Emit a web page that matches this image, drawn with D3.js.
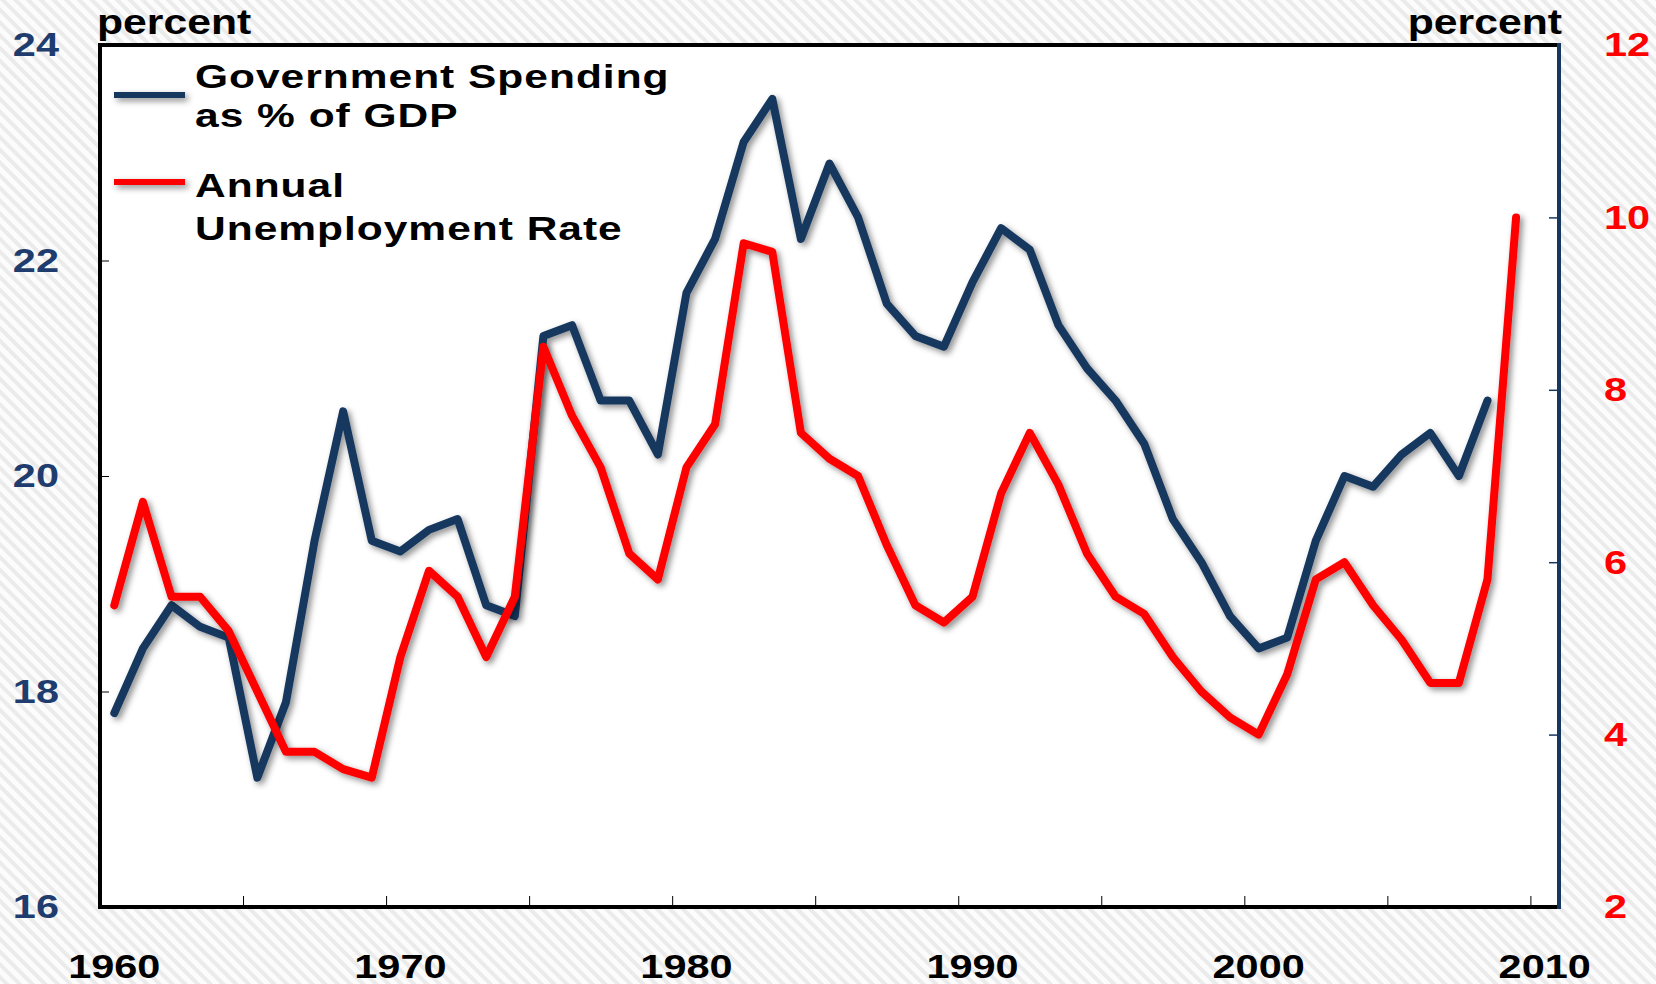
<!DOCTYPE html>
<html>
<head>
<meta charset="utf-8">
<script src="https://cdnjs.cloudflare.com/ajax/libs/d3/7.8.5/d3.min.js"></script>
<style>
  body { margin: 0; background: #fff; }
  svg text { font-family: "Liberation Sans", Arial, sans-serif; font-weight: bold; }
</style>
</head>
<body>
<svg id="chart" width="1656" height="984"></svg>
<script>
// data
var years = d3.range(1960, 2010);
var spending = [17.8, 18.4, 18.8, 18.6, 18.5, 17.2, 17.9, 19.4, 20.6, 19.4,
                19.3, 19.5, 19.6, 18.8, 18.7, 21.3, 21.4, 20.7, 20.7, 20.2,
                21.7, 22.2, 23.1, 23.5, 22.2, 22.9, 22.4, 21.6, 21.3, 21.2,
                21.8, 22.3, 22.1, 21.4, 21.0, 20.7, 20.3, 19.6, 19.2, 18.7,
                18.4, 18.5, 19.4, 20.0, 19.9, 20.2, 20.4, 20.0, 20.7];
var unemployment = [5.5, 6.7, 5.6, 5.6, 5.2, 4.5, 3.8, 3.8, 3.6, 3.5,
                    4.9, 5.9, 5.6, 4.9, 5.6, 8.5, 7.7, 7.1, 6.1, 5.8,
                    7.1, 7.6, 9.7, 9.6, 7.5, 7.2, 7.0, 6.2, 5.5, 5.3,
                    5.6, 6.8, 7.5, 6.9, 6.1, 5.6, 5.4, 4.9, 4.5, 4.2,
                    4.0, 4.7, 5.8, 6.0, 5.5, 5.1, 4.6, 4.6, 5.8, 10.0];
var leftTicks = [16, 18, 20, 22, 24];
var rightTicks = [2, 4, 6, 8, 10, 12];
var xTicks = [1965, 1970, 1975, 1980, 1985, 1990, 1995, 2000, 2005, 2010];
var xLabels = [1960, 1970, 1980, 1990, 2000, 2010];
var seriesNames = [["Government Spending", "as % of GDP"], ["Annual", "Unemployment Rate"]];

var navy = "#17375e", red = "#ff0000", leftText = "#1f3c6e";
var SX = 1.22; // text in the picture is stretched sideways

var svg = d3.select("#chart");
var pL = 100, pR = 1559, pT = 45, pB = 907;

var x = d3.scaleLinear().domain([1960, 2011]).range([pL, pR]);
var yL = d3.scaleLinear().domain([16, 24]).range([pB, pT]);
var yR = d3.scaleLinear().domain([2, 12]).range([pB, pT]);

var defs = svg.append("defs");
var pat = defs.append("pattern")
    .attr("id", "stripes")
    .attr("patternUnits", "userSpaceOnUse")
    .attr("width", 9).attr("height", 9)
    .attr("patternTransform", "rotate(-45)");
pat.append("rect").attr("width", 9).attr("height", 9).attr("fill", "#fcfcfc");
pat.append("rect").attr("width", 4).attr("height", 9).attr("fill", "#ebebeb");

var shadow = defs.append("filter").attr("id", "shadow")
    .attr("filterUnits", "userSpaceOnUse")
    .attr("x", 0).attr("y", 0).attr("width", 1656).attr("height", 984);
shadow.append("feDropShadow")
    .attr("dx", 3).attr("dy", 3).attr("stdDeviation", 3)
    .attr("flood-color", "#000").attr("flood-opacity", 0.45);

svg.append("rect").attr("width", 1656).attr("height", 984).attr("fill", "url(#stripes)");
svg.append("rect")
    .attr("x", pL).attr("y", pT)
    .attr("width", pR - pL).attr("height", pB - pT)
    .attr("fill", "#fff");

// axes
var gL = svg.append("g")
    .attr("transform", "translate(" + pL + ",0)")
    .call(d3.axisLeft(yL).tickValues(leftTicks).tickSize(-9).tickPadding(0));
gL.select(".domain").remove();
gL.selectAll("line").attr("stroke", "#000");
gL.selectAll("text")
    .attr("x", null)
    .attr("transform", "translate(-41,0) scale(" + SX + ",1)")
    .attr("fill", leftText)
    .style("font-size", "34px");

var gR = svg.append("g")
    .attr("transform", "translate(" + pR + ",0)")
    .call(d3.axisRight(yR).tickValues(rightTicks).tickSize(-10).tickPadding(0));
gR.select(".domain").remove();
gR.selectAll("line").attr("stroke", navy).attr("stroke-width", 1.5);
gR.selectAll("text")
    .attr("x", null)
    .attr("transform", "translate(45,0) scale(" + SX + ",1)")
    .attr("fill", red)
    .style("font-size", "34px");

var gB = svg.append("g")
    .attr("transform", "translate(0," + pB + ")")
    .call(d3.axisBottom(x).tickValues(xTicks).tickSize(-11).tickFormat(""));
gB.select(".domain").remove();
gB.selectAll("line").attr("stroke", "#000");

svg.selectAll(".xlabel")
    .data(xLabels)
    .enter().append("text")
    .attr("class", "xlabel")
    .attr("text-anchor", "middle")
    .attr("transform", function(d) { return "translate(" + x(d + 0.5) + ",978) scale(" + SX + ",1)"; })
    .style("font-size", "34px")
    .attr("fill", "#000")
    .text(function(d) { return d; });

// frame
svg.append("path")
    .attr("d", "M" + pR + "," + pT + "H" + pL + "V" + pB + "H" + pR)
    .attr("fill", "none").attr("stroke", "#000").attr("stroke-width", 4);
svg.append("line")
    .attr("x1", pR).attr("x2", pR).attr("y1", pT - 2).attr("y2", pB + 2)
    .attr("stroke", navy).attr("stroke-width", 4);

svg.append("text")
    .attr("transform", "translate(97,34) scale(" + SX + ",1)")
    .style("font-size", "35px").text("percent");
svg.append("text")
    .attr("text-anchor", "end")
    .attr("transform", "translate(1562,34) scale(" + SX + ",1)")
    .style("font-size", "35px").text("percent");

// lines
var lineL = d3.line()
    .x(function(d, i) { return x(years[i] + 0.5); })
    .y(function(d) { return yL(d); });
var lineR = d3.line()
    .x(function(d, i) { return x(years[i] + 0.5); })
    .y(function(d) { return yR(d); });

svg.append("path")
    .datum(spending)
    .attr("d", lineL)
    .attr("fill", "none").attr("stroke", navy).attr("stroke-width", 8)
    .attr("stroke-linejoin", "round").attr("stroke-linecap", "round")
    .attr("filter", "url(#shadow)");
svg.append("path")
    .datum(unemployment)
    .attr("d", lineR)
    .attr("fill", "none").attr("stroke", red).attr("stroke-width", 8)
    .attr("stroke-linejoin", "round").attr("stroke-linecap", "round")
    .attr("filter", "url(#shadow)");

// legend
var legendY = [95, 182];
var legendBase = [[88, 127], [197, 240]];
var legendColors = [navy, red];
seriesNames.forEach(function(lines, k) {
    svg.append("line")
        .attr("x1", 114).attr("x2", 185)
        .attr("y1", legendY[k]).attr("y2", legendY[k])
        .attr("stroke", legendColors[k]).attr("stroke-width", 6)
        .attr("filter", "url(#shadow)");
    lines.forEach(function(t, j) {
        svg.append("text")
            .attr("transform", "translate(195," + legendBase[k][j] + ") scale(1.25,1)")
            .style("font-size", "34px")
            .style("letter-spacing", "0.8px")
            .attr("fill", "#000")
            .text(t);
    });
});
</script>
</body>
</html>
